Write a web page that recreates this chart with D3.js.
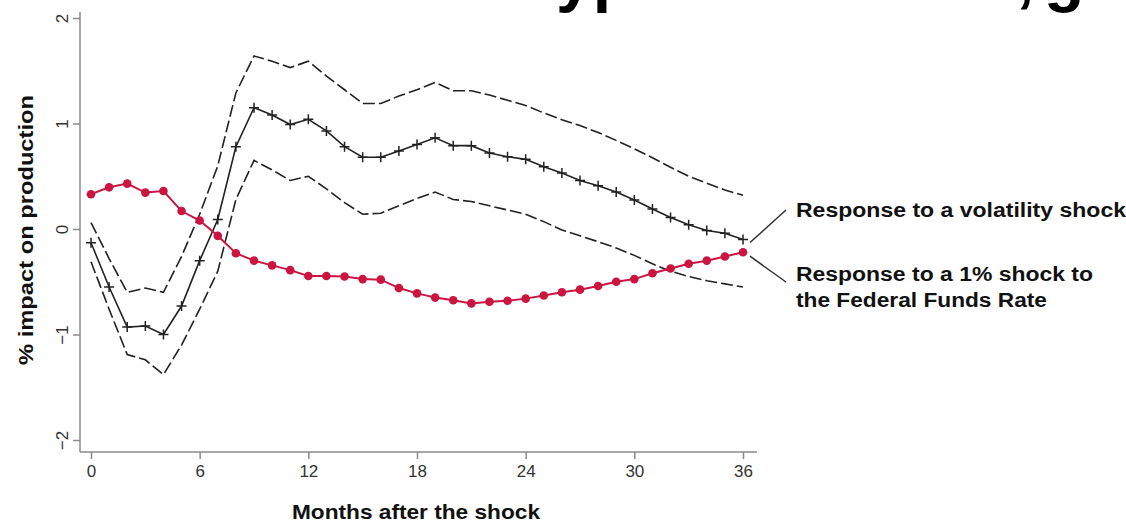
<!DOCTYPE html>
<html>
<head>
<meta charset="utf-8">
<script src="https://cdn.jsdelivr.net/npm/d3@7"></script>
<style>
  html, body { margin: 0; padding: 0; background: #fff; }
  svg { display: block; font-family: "Liberation Sans", Arial, sans-serif; }
</style>
</head>
<body>
<svg id="chart" width="1126" height="526"></svg>
<script>
// ---- data ----
const months = d3.range(0, 37);
const xTicks = [0, 6, 12, 18, 24, 30, 36];
const yTicks = [-2, -1, 0, 1, 2];

const volatility = [-0.13, -0.55, -0.93, -0.92, -1.00, -0.73, -0.30, 0.09, 0.78, 1.15,
  1.08, 0.99, 1.04, 0.93, 0.78, 0.68, 0.68, 0.74, 0.80, 0.865,
  0.79, 0.79, 0.72, 0.685, 0.66, 0.59, 0.53, 0.46, 0.41, 0.35,
  0.275, 0.19, 0.11, 0.04, -0.015, -0.04, -0.10];
const volUpper = [0.06, -0.28, -0.60, -0.56, -0.60, -0.26, 0.14, 0.60, 1.29, 1.64,
  1.59, 1.53, 1.59, 1.45, 1.32, 1.19, 1.19, 1.26, 1.32, 1.39,
  1.31, 1.31, 1.27, 1.22, 1.17, 1.10, 1.035, 0.98, 0.915, 0.84,
  0.76, 0.675, 0.585, 0.50, 0.435, 0.37, 0.32];
const volLower = [-0.31, -0.76, -1.19, -1.24, -1.38, -1.10, -0.76, -0.40, 0.28, 0.65,
  0.56, 0.46, 0.50, 0.38, 0.25, 0.14, 0.15, 0.22, 0.29, 0.35,
  0.28, 0.26, 0.22, 0.18, 0.14, 0.07, -0.01, -0.065, -0.12, -0.18,
  -0.25, -0.33, -0.40, -0.45, -0.49, -0.52, -0.55];
const fedFunds = [0.33, 0.395, 0.43, 0.345, 0.36, 0.17, 0.08, -0.065, -0.23, -0.30,
  -0.345, -0.39, -0.445, -0.445, -0.45, -0.475, -0.48, -0.56, -0.61, -0.65,
  -0.675, -0.705, -0.69, -0.68, -0.66, -0.63, -0.60, -0.575, -0.54, -0.50,
  -0.475, -0.42, -0.375, -0.33, -0.30, -0.26, -0.22];

const yTitle = "% impact on production";
const xTitle = "Months after the shock";
const labelVol = "Response to a volatility shock";
const labelFed = ["Response to a 1% shock to", "the Federal Funds Rate"];

// ---- drawing ----
const svg = d3.select("#chart");
const x = d3.scaleLinear().domain([0, 36]).range([91, 743]);
const y = d3.scaleLinear().domain([-2, 2]).range([440, 18]);
const axisColor = "#8a8a8a";
const ink = "#222";
const red = "#cc1440";

// cut-off title fragments at the very top (only descenders visible in the reference)
const topFrag = svg.append("g").attr("font-weight", "bold").attr("font-size", 66).attr("fill", "#000");
topFrag.append("text").attr("x", 556).attr("y", -1).text("yp");
topFrag.append("text").attr("x", 1016).attr("y", -1).text(",");
topFrag.append("text").attr("x", 1044).attr("y", -1).text("g");

// y axis
const yAxis = svg.append("g").attr("transform", "translate(80,0)")
  .call(d3.axisLeft(y).tickValues(yTicks).tickSize(7).tickPadding(5).tickFormat(d3.format("d")));
yAxis.select(".domain").attr("d", `M0,12V452`);
yAxis.selectAll(".domain, .tick line").attr("stroke", axisColor).attr("stroke-width", 1.5);
yAxis.selectAll(".tick text")
  .attr("font-size", 17).attr("fill", "#333")
  .attr("transform", "rotate(-90)")
  .attr("x", 0).attr("y", -12).attr("dy", "0")
  .attr("text-anchor", "middle");

// x axis
const xAxis = svg.append("g").attr("transform", "translate(0,452)")
  .call(d3.axisBottom(x).tickValues(xTicks).tickSize(7).tickPadding(6).tickFormat(d3.format("d")));
xAxis.select(".domain").attr("d", `M80,0H757`);
xAxis.selectAll(".domain, .tick line").attr("stroke", axisColor).attr("stroke-width", 1.5);
xAxis.selectAll(".tick text").attr("font-size", 17).attr("fill", "#333");

// axis titles
svg.append("text")
  .attr("transform", "translate(33,230) rotate(-90)")
  .attr("text-anchor", "middle")
  .attr("font-weight", "bold").attr("font-size", 20).attr("fill", "#111")
  .attr("textLength", 270).attr("lengthAdjust", "spacingAndGlyphs")
  .text(yTitle);
svg.append("text")
  .attr("x", 292).attr("y", 519)
  .attr("font-weight", "bold").attr("font-size", 21).attr("fill", "#111")
  .attr("textLength", 248).attr("lengthAdjust", "spacingAndGlyphs")
  .text(xTitle);

// lines
const line = arr => d3.line().x((d, i) => x(months[i])).y(d => y(d))(arr);

svg.append("path").attr("d", line(volUpper))
  .attr("fill", "none").attr("stroke", ink).attr("stroke-width", 1.6).attr("stroke-dasharray", "12,4");
svg.append("path").attr("d", line(volLower))
  .attr("fill", "none").attr("stroke", ink).attr("stroke-width", 1.6).attr("stroke-dasharray", "12,4");
svg.append("path").attr("d", line(volatility))
  .attr("fill", "none").attr("stroke", ink).attr("stroke-width", 1.6);
svg.append("g").selectAll("path.plus").data(volatility).join("path")
  .attr("d", (d, i) => { const cx = x(months[i]), cy = y(d); return `M${cx-5},${cy}H${cx+5}M${cx},${cy-5}V${cy+5}`; })
  .attr("stroke", ink).attr("stroke-width", 1.5);

svg.append("path").attr("d", line(fedFunds))
  .attr("fill", "none").attr("stroke", red).attr("stroke-width", 2);
svg.append("g").selectAll("circle").data(fedFunds).join("circle")
  .attr("cx", (d, i) => x(months[i])).attr("cy", d => y(d)).attr("r", 4.3)
  .attr("fill", red);

// annotations
const lastX = x(36);
svg.append("line").attr("x1", lastX + 7).attr("y1", y(volatility[36]) + 3)
  .attr("x2", 786).attr("y2", 210).attr("stroke", "#333").attr("stroke-width", 1.5);
svg.append("line").attr("x1", lastX + 7).attr("y1", y(fedFunds[36]) + 4)
  .attr("x2", 786).attr("y2", 282).attr("stroke", "#333").attr("stroke-width", 1.5);

const ann = svg.append("g").attr("font-weight", "bold").attr("font-size", 20).attr("fill", "#111");
ann.append("text").attr("x", 796).attr("y", 217)
  .attr("textLength", 330).attr("lengthAdjust", "spacingAndGlyphs").text(labelVol);
ann.append("text").attr("x", 796).attr("y", 281)
  .attr("textLength", 297).attr("lengthAdjust", "spacingAndGlyphs").text(labelFed[0]);
ann.append("text").attr("x", 796).attr("y", 307)
  .attr("textLength", 251).attr("lengthAdjust", "spacingAndGlyphs").text(labelFed[1]);
</script>
</body>
</html>
